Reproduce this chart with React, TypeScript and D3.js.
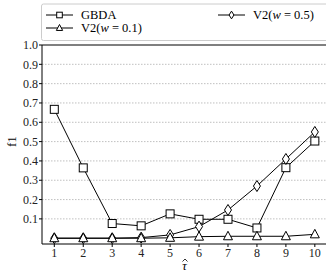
import React from 'react';
import * as d3 from 'd3';

const taus = [1, 2, 3, 4, 5, 6, 7, 8, 9, 10];
const gbda = [0.667, 0.364, 0.076, 0.064, 0.126, 0.098, 0.098, 0.053, 0.365, 0.503];
const v2w01 = [0.0, 0.0, 0.0, 0.0, 0.002, 0.008, 0.01, 0.01, 0.01, 0.02];
const v2w05 = [0.0, 0.0, 0.0, 0.003, 0.017, 0.06, 0.146, 0.27, 0.41, 0.55];
const yTicks = [0.1, 0.2, 0.3, 0.4, 0.5, 0.6, 0.7, 0.8, 0.9, 1.0];

const W = 326;
const H = 273;
const FONT = '"Liberation Serif", "DejaVu Serif", serif';

function Marker({ kind, x, y, s = 1 }: { kind: string; x: number; y: number; s?: number }) {
  if (kind === 'square') {
    return <rect x={x - 4 * s} y={y - 4 * s} width={8 * s} height={8 * s} fill="white" stroke="black" strokeWidth={1} />;
  }
  if (kind === 'triangle') {
    const p = [[x, y - 5 * s], [x - 4.5 * s, y + 3.5 * s], [x + 4.5 * s, y + 3.5 * s]];
    return <polygon points={p.map((q) => q.join(',')).join(' ')} fill="white" stroke="black" strokeWidth={1} />;
  }
  const p = [[x, y - 5.5 * s], [x + 3.5 * s, y], [x, y + 5.5 * s], [x - 3.5 * s, y]];
  return <polygon points={p.map((q) => q.join(',')).join(' ')} fill="white" stroke="black" strokeWidth={1} />;
}

export default function App() {
  const margin = { left: 42, top: 45, right: -1, bottom: 29 };
  const x = d3.scaleLinear().domain([0.575, 10.42]).range([margin.left, W - margin.right]);
  const y = d3.scaleLinear().domain([-0.03, 1.0]).range([H - margin.bottom, margin.top]);

  const line = d3.line<number>().x((d, i) => x(taus[i])).y((d) => y(d));

  const series = [
    { name: 'gbda', values: gbda, kind: 'square' },
    { name: 'w05', values: v2w05, kind: 'diamond' },
    { name: 'w01', values: v2w01, kind: 'triangle' },
  ];

  const x0 = x.range()[0];
  const x1 = x.range()[1];
  const yb = y.range()[0];
  const yt = y.range()[1];
  const xc = (x0 + x1) / 2;

  return (
    <svg width={W} height={H} style={{ position: 'absolute', left: 0, top: 0 }} fontFamily={FONT}>
      <rect width={W} height={H} fill="white" />
      {/* grid */}
      {yTicks.filter((t) => t < 1).map((t) => (
        <line key={t} x1={x0} x2={x1} y1={y(t)} y2={y(t)} stroke="#b0b0b0" strokeWidth={0.8} strokeDasharray="1.5,1.5" />
      ))}
      {/* series */}
      {series.map((s) => (
        <g key={s.name}>
          <path d={line(s.values) || ''} fill="none" stroke="black" strokeWidth={1} />
          {s.values.map((v, i) => (
            <Marker key={i} kind={s.kind} x={x(taus[i])} y={y(v)} />
          ))}
        </g>
      ))}
      {/* frame */}
      <line x1={x0} x2={x1} y1={yt} y2={yt} stroke="black" strokeWidth={1} />
      <line x1={x0} x2={x1} y1={yb} y2={yb} stroke="black" strokeWidth={1} />
      <line x1={x0} x2={x0} y1={yt} y2={yb} stroke="black" strokeWidth={1} />
      {/* y ticks */}
      {yTicks.map((t) => (
        <g key={t}>
          <line x1={x0 - 3} x2={x0} y1={y(t)} y2={y(t)} stroke="black" strokeWidth={1} />
          <text x={x0 - 4} y={y(t)} dy="0.35em" textAnchor="end" fontSize={12} fill="#222">
            {t.toFixed(1)}
          </text>
        </g>
      ))}
      {/* x ticks */}
      {taus.map((t) => (
        <g key={t}>
          <line x1={x(t)} x2={x(t)} y1={yb} y2={yb + 3} stroke="black" strokeWidth={1} />
          <text x={x(t)} y={yb + 13} textAnchor="middle" fontSize={12} fill="#222">
            {t}
          </text>
        </g>
      ))}
      {/* x label: tau with hat */}
      <text x={xc} y={269.5} textAnchor="middle" fontSize={12.5} fontStyle="italic">
        τ
      </text>
      <path d={`M${xc - 2},${261.5} L${xc + 0.5},${259} L${xc + 3},${261.5}`} fill="none" stroke="black" strokeWidth={0.8} />
      <text transform={`translate(16,${y(0.5)}) rotate(-90)`} textAnchor="middle" fontSize={13}>
        f1
      </text>
      {/* legend */}
      <rect x={41.5} y={4} width={300} height={36.5} rx={2} fill="white" stroke="#cccccc" strokeWidth={1} />
      {[
        { kind: 'square', lx: 46, ly: 15, label: <tspan>GBDA</tspan> },
        { kind: 'triangle', lx: 46, ly: 28, label: <><tspan>V2(</tspan><tspan fontStyle="italic">w</tspan><tspan> = 0.1)</tspan></> },
        { kind: 'diamond', lx: 218, ly: 15, label: <><tspan>V2(</tspan><tspan fontStyle="italic">w</tspan><tspan> = 0.5)</tspan></> },
      ].map((e, i) => (
        <g key={i}>
          <line x1={e.lx} x2={e.lx + 27} y1={e.ly} y2={e.ly} stroke="black" strokeWidth={1} />
          <Marker kind={e.kind} x={e.lx + 13.5} y={e.ly} s={0.7} />
          <text x={e.lx + 35} y={e.ly} dy="0.35em" fontSize={12.5}>
            {e.label}
          </text>
        </g>
      ))}
    </svg>
  );
}
